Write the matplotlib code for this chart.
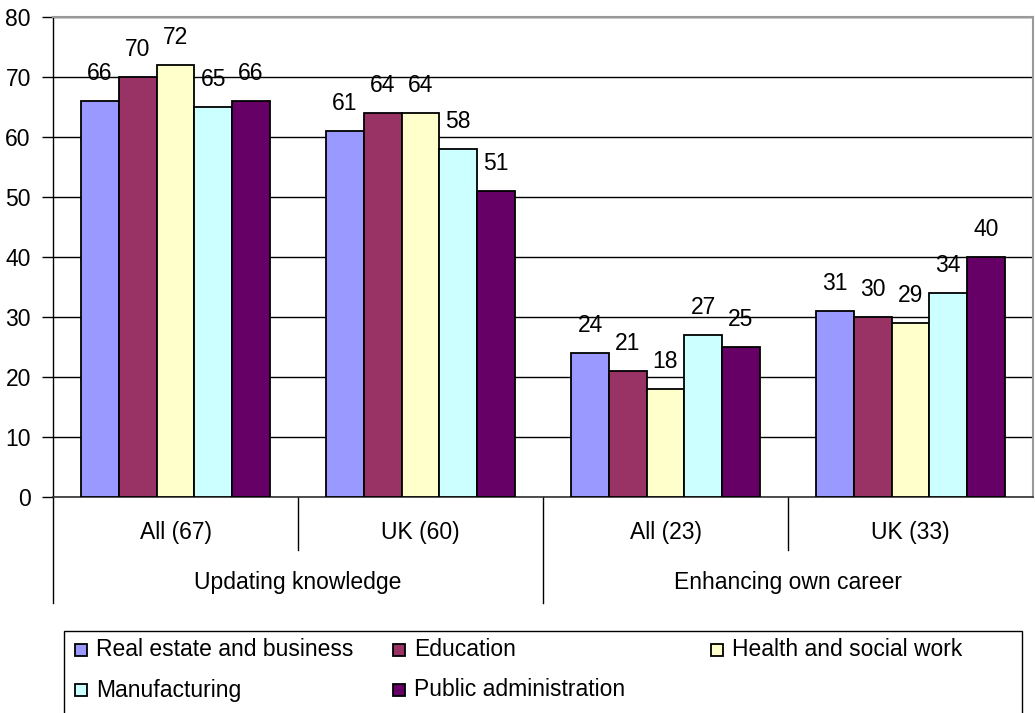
import matplotlib
matplotlib.use('Agg')
import matplotlib.pyplot as plt
from matplotlib.patches import Rectangle
import numpy as np

FS = 16.5
plt.rcParams['font.family'] = ['Liberation Sans', 'DejaVu Sans']
plt.rcParams['font.size'] = FS

series = ['Real estate and business', 'Education', 'Health and social work',
          'Manufacturing', 'Public administration']
colors = ['#9999FF', '#993366', '#FFFFCC', '#CCFFFF', '#660066']
sub_labels = ['All (67)', 'UK (60)', 'All (23)', 'UK (33)']
main_labels = ['Updating knowledge', 'Enhancing own career']

real_estate = [66, 61, 24, 31]
education = [70, 64, 21, 30]
health = [72, 64, 18, 29]
manufacturing = [65, 58, 27, 34]
public_admin = [66, 51, 25, 40]
values = [real_estate, education, health, manufacturing, public_admin]

W, H = 1035, 713
fig = plt.figure(figsize=(W / 100, H / 100), dpi=100)
ax = fig.add_axes([53 / W, 1 - 497 / H, 980 / W, 480 / H])

n_groups = len(sub_labels)
centers = np.arange(n_groups) + 0.5
bw = 1 / 6.5
for i, (vals, c) in enumerate(zip(values, colors)):
    xs = centers + (i - 2) * bw
    ax.bar(xs, vals, width=bw, color=c, edgecolor='black', linewidth=1.3, zorder=3)
    for x, v in zip(xs, vals):
        ax.annotate(str(v), (x, v), xytext=(0, 19.5), textcoords='offset points',
                    ha='center', va='center', fontsize=FS, zorder=4)

ax.set_xlim(0, n_groups)
ax.set_ylim(0, 80)
ax.set_yticks(range(0, 81, 10))
ax.yaxis.grid(True, color='black', linewidth=1.0, zorder=0)
ax.set_xticks([])
ax.tick_params(axis='y', direction='out', length=8, width=1, pad=8, labelsize=FS)

for s in ['top', 'right']:
    ax.spines[s].set_color('#999999')
    ax.spines[s].set_linewidth(1.5)
ax.spines['left'].set_linewidth(1.0)
ax.spines['bottom'].set_linewidth(1.2)
ax.spines['bottom'].set_color('#333333')

# category axis: two levels of labels and separators
tr = ax.get_xaxis_transform()
for x in [1, 3]:
    ax.plot([x, x], [0, -0.110], color='black', lw=1, transform=tr, clip_on=False)
for x in [0, 2]:
    ax.plot([x, x], [0, -0.221], color='black', lw=1, transform=tr, clip_on=False)
for x, lab in zip(centers, sub_labels):
    ax.text(x, -0.073, lab, transform=tr, ha='center', va='center', fontsize=FS)
for k, lab in enumerate(main_labels):
    ax.text(2 * k + 1, -0.179, lab, transform=tr, ha='center', va='center', fontsize=FS)

# legend box (runs off the bottom of the image)
fig.patches.append(Rectangle((64 / W, -0.05), (1022 - 64) / W, 0.05 + (H - 631) / H,
                             transform=fig.transFigure, facecolor='white',
                             edgecolor='black', linewidth=1.0))
pos = [(75, 650), (393, 650), (711, 650), (75, 690), (393, 690)]
sq = 12
for (px, py), lab, c in zip(pos, series, colors):
    fig.patches.append(Rectangle((px / W, 1 - (py + sq / 2) / H), sq / W, sq / H,
                                 transform=fig.transFigure, facecolor=c,
                                 edgecolor='black', linewidth=1.3))
    fig.text((px + 21) / W, 1 - py / H, lab, ha='left', va='center', fontsize=FS)

fig.savefig('out.png', dpi=100)
